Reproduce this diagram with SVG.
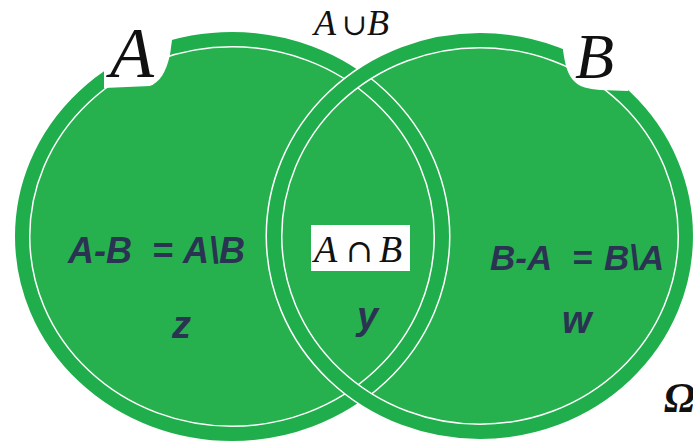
<svg xmlns="http://www.w3.org/2000/svg" width="693" height="442" viewBox="0 0 693 442">
  <style>
    .fill { fill: #27b14e; stroke: none; }
    .edge { fill: none; stroke: #ffffff; stroke-width: 17; }
    .band { fill: none; stroke: #1fae4b; stroke-width: 14; }
    .cut { fill: #ffffff; stroke: none; }
    .math { font-family: "Liberation Serif", "DejaVu Serif", serif; font-style: italic; fill: #111111; }
    .sym { font-family: "DejaVu Serif", "Liberation Serif", serif; font-style: normal; fill: #111111; }
    .lbl { font-family: "Liberation Sans", Arial, sans-serif; font-style: italic; font-weight: bold; fill: #2b3352; }
  </style>
  <rect x="0" y="0" width="693" height="442" fill="#ffffff"/>
  <g id="setA-fill"><ellipse class="fill" cx="232" cy="236.5" rx="210" ry="197.5"/></g>
  <g id="setB-fill"><ellipse class="fill" cx="480" cy="236" rx="206" ry="196"/></g>
  <g id="setA-ring">
    <ellipse class="edge" cx="232" cy="236.5" rx="210" ry="197.5"/>
    <ellipse class="band" cx="232" cy="236.5" rx="210" ry="197.5"/>
  </g>
  <g id="setB-ring">
    <ellipse class="edge" cx="480" cy="236" rx="206" ry="196"/>
    <ellipse class="band" cx="480" cy="236" rx="206" ry="196"/>
  </g>
  <g id="cutouts">
    <path class="cut" d="M104,20 L104,88 L150,86 C160,82 166,72 170,55 L172,40 L172,20 Z"/>
    <path class="cut" d="M563,20 L563,50 C565,65 568,76 575,82 C580,87 588,89 600,90 L628,91 L628,20 Z"/>
    <rect class="cut" x="311" y="0" width="86" height="45"/>
  </g>
  <g id="label-A"><text class="math" x="110" y="77" font-size="72">A</text></g>
  <g id="label-B"><text class="math" x="575" y="78" font-size="64">B</text></g>
  <g id="label-union">
    <text class="math" x="314" y="35" font-size="36">A</text>
    <text class="sym" x="342" y="35" font-size="30">∪</text>
    <text class="math" x="367" y="35" font-size="36">B</text>
  </g>
  <g id="region-intersection">
    <rect x="311" y="225" width="99" height="46" fill="#ffffff"/>
    <text class="math" x="314" y="262" font-size="38">A</text>
    <text class="sym" x="346" y="262" font-size="32">∩</text>
    <text class="math" x="379" y="262" font-size="38">B</text>
    <text class="lbl" x="357" y="329" font-size="38">y</text>
  </g>
  <g id="region-A-only">
    <text class="lbl" x="68" y="263" font-size="36">A-B</text>
    <text class="lbl" x="152" y="263" font-size="36">=</text>
    <text class="lbl" x="183" y="263" font-size="36">A\B</text>
    <text class="lbl" x="172" y="338" font-size="38">z</text>
  </g>
  <g id="region-B-only">
    <text class="lbl" x="490" y="270" font-size="35">B-A</text>
    <text class="lbl" x="572" y="270" font-size="35">=</text>
    <text class="lbl" x="604" y="270" font-size="35">B\A</text>
    <text class="lbl" x="562" y="333" font-size="38">w</text>
  </g>
  <g id="universe"><text x="664" y="412" font-family="Liberation Serif, serif" font-style="italic" font-weight="bold" font-size="42" fill="#111111">Ω</text></g>
</svg>
